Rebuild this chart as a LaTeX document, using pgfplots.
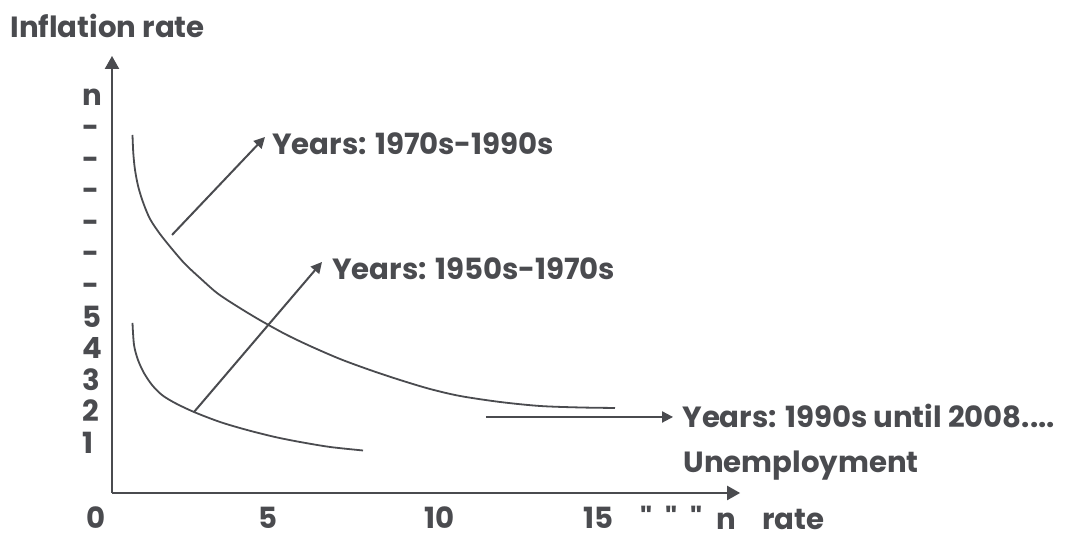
\documentclass[border=0pt]{standalone}
\usepackage{fontspec}
\newfontfamily\pop{Poppins}[UprightFont={* Bold}]
\usepackage{pgfplots}
\pgfplotsset{compat=1.18}
\usetikzlibrary{arrows.meta}
\definecolor{maincol}{RGB}{74,75,79}
\begin{document}
\pop\fontsize{14.6}{18}\selectfont\color{maincol}%
\begin{tikzpicture}
\begin{axis}[
  x=17.2pt, y=15.8pt,
  xmin=0, xmax=18.26, ymin=0, ymax=13.83,
  axis lines=left,
  axis line style={line width=1.1pt, draw=maincol, -{Triangle[width=7pt,length=6.5pt]}},
  major tick length=0pt,
  /pgf/number format/assume math mode=true,
  xtick={0,5,10,14.6}, xticklabels={0,5,10,15},
  ytick={1,2,3,4,5,6,7,8,9,10,11,12},
  yticklabels={1,2,3,4,5,-,-,-,-,-,-,n},
  xticklabel style={anchor=base, inner sep=0pt, xshift=-8pt, yshift=-18pt, text=maincol},
  yticklabel style={anchor=base west, inner sep=0pt, xshift=-15pt, yshift=3.95pt, text=maincol},
  clip=false,
]
% 1970s-1990s curve
\addplot[maincol, line width=0.9pt, smooth] coordinates {
(0.596,11.329) (0.619,10.759) (0.669,10.222) (0.765,9.684) (0.910,9.177)
(1.105,8.671) (1.395,8.196) (1.744,7.722) (2.122,7.247) (2.558,6.804)
(3.052,6.329) (3.576,5.949) (4.244,5.506) (5.029,5.032) (5.756,4.652)
(6.628,4.241) (7.500,3.892) (8.372,3.576) (9.244,3.291) (10.116,3.070)
(11.279,2.880) (12.442,2.753) (13.605,2.706) (14.622,2.690)};
% 1950s-1970s curve
\addplot[maincol, line width=0.9pt, smooth] coordinates {
(0.596,5.380) (0.640,4.684) (0.756,4.209) (0.930,3.797) (1.163,3.418)
(1.453,3.101) (1.831,2.848) (2.384,2.563) (3.140,2.247) (3.924,1.994)
(4.738,1.772) (5.465,1.614) (6.337,1.456) (7.297,1.345)};
% annotation arrows
\addplot[maincol, line width=1pt, -{Triangle[width=5.5pt,length=5.5pt]}] coordinates {(1.744,8.165) (4.448,11.266)};
\addplot[maincol, line width=1pt, -{Triangle[width=5.5pt,length=5.5pt]}] coordinates {(2.384,2.563) (6.105,7.310)};
\addplot[maincol, line width=1pt, -{Triangle[width=5.5pt,length=5.5pt]}] coordinates {(10.872,2.405) (16.31,2.405)};
% texts
\node[anchor=base west, inner sep=0pt] at (axis cs:-2.965,14.399) {Inflation rate};
\node[anchor=base west, inner sep=0pt] at (axis cs:4.65,10.696) {Years: 1970s-1990s};
\node[anchor=base west, inner sep=0pt] at (axis cs:6.395,6.741) {Years: 1950s-1970s};
\node[anchor=base west, inner sep=0pt] at (axis cs:16.57,2.057) {Years: 1990s until 2008....};
\node[anchor=base west, inner sep=0pt] at (axis cs:16.6,0.633) {Unemployment};
\node[anchor=base west, inner sep=0pt] at (axis cs:15.35,-1.14) {"\hspace{6.5pt}"\hspace{6.5pt}"\hspace{7pt}n\hspace{13pt}rate};
\coordinate (bl) at (axis cs:-3.256,-1.297);
\coordinate (tr) at (axis cs:27.849,15.601);
\end{axis}
\pgfresetboundingbox
\path[use as bounding box] (bl) rectangle (tr);
\end{tikzpicture}
\end{document}
